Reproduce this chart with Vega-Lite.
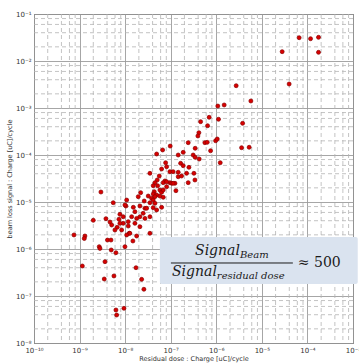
{
  "$schema": "https://vega.github.io/schema/vega-lite/v6.json",
  "width": 319,
  "height": 329,
  "autosize": {"type": "none"},
  "padding": {"left": 34, "top": 14, "right": 6, "bottom": 20},
  "background": "white",
  "config": {
    "view": {"stroke": "#3a3a3a", "strokeWidth": 1},
    "font": "DejaVu Sans"
  },
  "datasets": {
    "minorDose": [
      {"v": 2e-10}, {"v": 4e-10}, {"v": 6e-10}, {"v": 8e-10}, {"v": 2e-9}, {"v": 4e-9}, {"v": 6e-9}, {"v": 8e-9},
      {"v": 2e-8}, {"v": 4e-8}, {"v": 6e-8}, {"v": 8e-8}, {"v": 2e-7}, {"v": 4e-7}, {"v": 6e-7}, {"v": 8e-7},
      {"v": 2e-6}, {"v": 4e-6}, {"v": 6e-6}, {"v": 8e-6}, {"v": 2e-5}, {"v": 4e-5}, {"v": 6e-5}, {"v": 8e-5},
      {"v": 2e-4}, {"v": 4e-4}, {"v": 6e-4}, {"v": 8e-4}
    ],
    "minorSignal": [
      {"v": 2e-8}, {"v": 4e-8}, {"v": 6e-8}, {"v": 8e-8}, {"v": 2e-7}, {"v": 4e-7}, {"v": 6e-7}, {"v": 8e-7},
      {"v": 2e-6}, {"v": 4e-6}, {"v": 6e-6}, {"v": 8e-6}, {"v": 2e-5}, {"v": 4e-5}, {"v": 6e-5}, {"v": 8e-5},
      {"v": 2e-4}, {"v": 4e-4}, {"v": 6e-4}, {"v": 8e-4}, {"v": 2e-3}, {"v": 4e-3}, {"v": 6e-3}, {"v": 8e-3},
      {"v": 2e-2}, {"v": 4e-2}, {"v": 6e-2}, {"v": 8e-2}
    ],
    "shots": [
      {"dose": 6.58e-5, "signal": 3.13e-2}, {"dose": 1.17e-4, "signal": 2.98e-2}, {"dose": 1.75e-4, "signal": 3.19e-2},
      {"dose": 2.79e-5, "signal": 1.58e-2}, {"dose": 1.75e-4, "signal": 1.53e-2}, {"dose": 3.97e-5, "signal": 3.24e-3},
      {"dose": 5.74e-6, "signal": 1.41e-3}, {"dose": 2.73e-6, "signal": 2.98e-3}, {"dose": 1.08e-6, "signal": 1.10e-3},
      {"dose": 1.49e-6, "signal": 1.16e-3}, {"dose": 6.98e-7, "signal": 6.34e-4}, {"dose": 1.12e-6, "signal": 5.75e-4},
      {"dose": 3.78e-6, "signal": 4.72e-4}, {"dose": 3.59e-6, "signal": 1.43e-4}, {"dose": 5.26e-6, "signal": 1.46e-4},
      {"dose": 4.53e-7, "signal": 5.12e-4}, {"dose": 6.44e-7, "signal": 4.20e-4}, {"dose": 4.15e-7, "signal": 2.98e-4},
      {"dose": 3.95e-7, "signal": 2.54e-4}, {"dose": 2.42e-7, "signal": 1.83e-4}, {"dose": 5.62e-7, "signal": 1.83e-4},
      {"dose": 6.32e-7, "signal": 1.86e-4}, {"dose": 9.66e-7, "signal": 2.01e-4}, {"dose": 1.05e-6, "signal": 2.19e-4},
      {"dose": 3.44e-7, "signal": 1.39e-4}, {"dose": 9.75e-8, "signal": 1.55e-4}, {"dose": 6.64e-8, "signal": 1.28e-4},
      {"dose": 4.91e-8, "signal": 1.05e-4}, {"dose": 7.50e-7, "signal": 1.23e-4}, {"dose": 1.88e-7, "signal": 1.14e-4},
      {"dose": 3.11e-7, "signal": 1.00e-4}, {"dose": 3.44e-7, "signal": 8.93e-5}, {"dose": 1.46e-7, "signal": 1.00e-4},
      {"dose": 4.22e-7, "signal": 8.22e-5}, {"dose": 1.22e-6, "signal": 6.85e-5}, {"dose": 7.73e-8, "signal": 6.85e-5},
      {"dose": 1.65e-7, "signal": 6.65e-5}, {"dose": 1.88e-7, "signal": 5.92e-5}, {"dose": 2.51e-7, "signal": 5.47e-5},
      {"dose": 8.13e-8, "signal": 5.64e-5}, {"dose": 6.31e-8, "signal": 5.04e-5}, {"dose": 9.59e-8, "signal": 4.42e-5},
      {"dose": 1.13e-7, "signal": 4.42e-5}, {"dose": 1.46e-7, "signal": 4.29e-5}, {"dose": 2.23e-7, "signal": 4.08e-5},
      {"dose": 3.23e-7, "signal": 4.08e-5}, {"dose": 3.50e-8, "signal": 4.08e-5}, {"dose": 5.60e-8, "signal": 3.57e-5},
      {"dose": 1.46e-7, "signal": 3.45e-5}, {"dose": 1.73e-7, "signal": 3.57e-5}, {"dose": 5.06e-8, "signal": 2.94e-5},
      {"dose": 7.46e-8, "signal": 2.80e-5}, {"dose": 4.51e-8, "signal": 2.58e-5}, {"dose": 6.85e-8, "signal": 2.58e-5},
      {"dose": 9.59e-8, "signal": 2.58e-5}, {"dose": 1.24e-7, "signal": 2.50e-5}, {"dose": 2.42e-7, "signal": 2.58e-5},
      {"dose": 3.40e-7, "signal": 2.94e-5}, {"dose": 4.13e-8, "signal": 2.22e-5}, {"dose": 5.16e-8, "signal": 2.22e-5},
      {"dose": 8.13e-8, "signal": 2.12e-5}, {"dose": 1.05e-7, "signal": 2.50e-5}, {"dose": 5.79e-8, "signal": 1.80e-5},
      {"dose": 4.35e-8, "signal": 1.66e-5}, {"dose": 1.30e-7, "signal": 1.74e-5}, {"dose": 4.13e-8, "signal": 1.48e-5},
      {"dose": 4.91e-8, "signal": 1.41e-5}, {"dose": 5.79e-8, "signal": 1.34e-5}, {"dose": 2.19e-8, "signal": 1.58e-5},
      {"dose": 3.21e-8, "signal": 1.34e-5}, {"dose": 3.81e-8, "signal": 1.20e-5}, {"dose": 4.13e-8, "signal": 1.10e-5},
      {"dose": 6.85e-8, "signal": 1.26e-5}, {"dose": 1.94e-8, "signal": 1.30e-5}, {"dose": 2.62e-8, "signal": 1.05e-5},
      {"dose": 3.50e-8, "signal": 9.66e-6}, {"dose": 4.51e-8, "signal": 9.38e-6}, {"dose": 1.08e-8, "signal": 1.10e-5},
      {"dose": 1.04e-8, "signal": 8.22e-6}, {"dose": 1.51e-8, "signal": 7.71e-6}, {"dose": 2.11e-8, "signal": 8.22e-6},
      {"dose": 2.72e-8, "signal": 7.35e-6}, {"dose": 4.13e-8, "signal": 7.57e-6}, {"dose": 4.91e-8, "signal": 6.76e-6},
      {"dose": 2.49e-8, "signal": 5.75e-6}, {"dose": 2.11e-8, "signal": 4.86e-6}, {"dose": 1.64e-8, "signal": 6.22e-6},
      {"dose": 1.39e-8, "signal": 4.86e-6}, {"dose": 9.08e-9, "signal": 4.86e-6}, {"dose": 1.79e-8, "signal": 4.48e-6},
      {"dose": 2.72e-8, "signal": 4.48e-6}, {"dose": 3.50e-8, "signal": 4.86e-6}, {"dose": 9.08e-9, "signal": 3.52e-6},
      {"dose": 1.17e-8, "signal": 3.08e-6}, {"dose": 1.64e-8, "signal": 3.52e-6}, {"dose": 2.11e-8, "signal": 2.98e-6},
      {"dose": 7.69e-9, "signal": 5.47e-6}, {"dose": 1.23e-8, "signal": 2.16e-6}, {"dose": 1.79e-8, "signal": 1.89e-6},
      {"dose": 3.50e-8, "signal": 2.16e-6}, {"dose": 1.08e-8, "signal": 1.99e-6}, {"dose": 6.31e-8, "signal": 1.61e-5},
      {"dose": 2.94e-9, "signal": 1.63e-5}, {"dose": 5.48e-9, "signal": 9.66e-6}, {"dose": 2.00e-9, "signal": 4.08e-6},
      {"dose": 3.79e-9, "signal": 4.42e-6}, {"dose": 4.65e-9, "signal": 3.75e-6}, {"dose": 5.06e-9, "signal": 3.24e-6},
      {"dose": 6.71e-9, "signal": 2.90e-6}, {"dose": 7.31e-9, "signal": 4.29e-6}, {"dose": 5.97e-9, "signal": 2.54e-6},
      {"dose": 7.54e-10, "signal": 1.99e-6}, {"dose": 1.31e-9, "signal": 1.89e-6}, {"dose": 1.27e-9, "signal": 1.67e-6},
      {"dose": 2.70e-9, "signal": 1.12e-6}, {"dose": 2.80e-9, "signal": 1.03e-6}, {"dose": 4.09e-9, "signal": 1.55e-6},
      {"dose": 4.89e-9, "signal": 1.55e-6}, {"dose": 4.95e-9, "signal": 9.53e-7}, {"dose": 6.28e-9, "signal": 8.34e-7},
      {"dose": 1.15e-9, "signal": 4.35e-7}, {"dose": 3.61e-9, "signal": 5.37e-7}, {"dose": 3.48e-9, "signal": 2.30e-7},
      {"dose": 5.68e-9, "signal": 2.67e-7}, {"dose": 6.28e-9, "signal": 5.04e-8}, {"dose": 6.51e-9, "signal": 3.94e-8},
      {"dose": 9.90e-9, "signal": 1.12e-6}, {"dose": 1.73e-8, "signal": 4.00e-7}, {"dose": 2.30e-8, "signal": 2.26e-7},
      {"dose": 2.58e-8, "signal": 1.39e-7}, {"dose": 9.42e-9, "signal": 5.47e-8}, {"dose": 8.38e-9, "signal": 2.54e-6},
      {"dose": 1.27e-8, "signal": 2.16e-6}, {"dose": 8.13e-8, "signal": 2.70e-5}, {"dose": 1.13e-7, "signal": 2.50e-5},
      {"dose": 2.96e-8, "signal": 7.35e-6}, {"dose": 6.31e-8, "signal": 7.71e-6}, {"dose": 9.90e-9, "signal": 8.63e-6},
      {"dose": 6.85e-8, "signal": 1.80e-5}, {"dose": 4.51e-8, "signal": 1.30e-5}, {"dose": 1.17e-8, "signal": 3.81e-6},
      {"dose": 7.69e-9, "signal": 3.52e-6}, {"dose": 1.48e-8, "signal": 1.48e-6}
    ]
  },
  "layer": [
    {
      "data": {"name": "minorDose"},
      "mark": {"type": "rule", "stroke": "#b4b4b4", "strokeWidth": 0.8, "strokeDash": [4, 3]},
      "encoding": {
        "x": {"field": "v", "type": "quantitative", "scale": {"type": "log", "domain": [1e-10, 1e-3], "nice": false}}
      }
    },
    {
      "data": {"name": "minorSignal"},
      "mark": {"type": "rule", "stroke": "#b4b4b4", "strokeWidth": 0.8, "strokeDash": [4, 3]},
      "encoding": {
        "y": {"field": "v", "type": "quantitative", "scale": {"type": "log", "domain": [1e-8, 1e-1], "nice": false}}
      }
    },
    {
      "data": {"name": "shots"},
      "mark": {"type": "point", "filled": true, "size": 16, "fill": "#d80000", "stroke": "#8a0000", "strokeWidth": 0.7, "opacity": 1},
      "encoding": {
        "x": {
          "field": "dose", "type": "quantitative",
          "scale": {"type": "log", "domain": [1e-10, 1e-3], "nice": false},
          "axis": {
            "values": [1e-10, 1e-9, 1e-8, 1e-7, 1e-6, 1e-5, 1e-4, 1e-3],
            "labelExpr": "'10' + replace(replace(replace(replace(replace(replace(replace(replace(replace(replace(replace('' + round(log(datum.value) / LN10), '-', '⁻'), '0', '⁰'), '1', '¹'), '2', '²'), '3', '³'), '4', '⁴'), '5', '⁵'), '6', '⁶'), '7', '⁷'), '8', '⁸'), '9', '⁹')",
            "labelFontSize": 7, "labelColor": "#333333", "labelPadding": 3, "labelFlush": false, "labelOverlap": false,
            "ticks": false, "domain": false,
            "grid": true, "gridColor": "#9c9c9c", "gridWidth": 0.9,
            "title": "Residual dose : Charge [uC]/cycle",
            "titleFontSize": 6.5, "titleFontWeight": "normal", "titleColor": "#333333", "titlePadding": 2
          }
        },
        "y": {
          "field": "signal", "type": "quantitative",
          "scale": {"type": "log", "domain": [1e-8, 1e-1], "nice": false},
          "axis": {
            "values": [1e-8, 1e-7, 1e-6, 1e-5, 1e-4, 1e-3, 1e-2, 1e-1],
            "labelExpr": "'10' + replace(replace(replace(replace(replace(replace(replace(replace(replace(replace(replace('' + round(log(datum.value) / LN10), '-', '⁻'), '0', '⁰'), '1', '¹'), '2', '²'), '3', '³'), '4', '⁴'), '5', '⁵'), '6', '⁶'), '7', '⁷'), '8', '⁸'), '9', '⁹')",
            "labelFontSize": 7, "labelColor": "#333333", "labelPadding": 3, "labelFlush": false, "labelOverlap": false,
            "ticks": false, "domain": false,
            "grid": true, "gridColor": "#9c9c9c", "gridWidth": 0.9,
            "title": "beam loss signal : Charge [uC]/cycle",
            "titleFontSize": 6.5, "titleFontWeight": "normal", "titleColor": "#333333", "titlePadding": 3
          }
        }
      }
    },
    {
      "data": {"values": [{}]},
      "mark": {"type": "rect", "fill": "#dae3ef", "cornerRadius": 2},
      "encoding": {
        "x": {"datum": 5.79e-8, "type": "quantitative", "scale": {"type": "log", "domain": [1e-10, 1e-3], "nice": false}},
        "x2": {"datum": 1.27e-3},
        "y": {"datum": 1.80e-6, "type": "quantitative", "scale": {"type": "log", "domain": [1e-8, 1e-1], "nice": false}},
        "y2": {"datum": 1.80e-7}
      }
    },
    {
      "data": {"values": [{}]},
      "mark": {"type": "rule", "stroke": "#1a1a1a", "strokeWidth": 1},
      "encoding": {
        "x": {"datum": 1.01e-7, "type": "quantitative", "scale": {"type": "log", "domain": [1e-10, 1e-3], "nice": false}},
        "x2": {"datum": 4.79e-5},
        "y": {"datum": 5.04e-7, "type": "quantitative", "scale": {"type": "log", "domain": [1e-8, 1e-1], "nice": false}}
      }
    },
    {
      "data": {"values": [{}]},
      "mark": {"type": "text", "text": "Signal", "font": "DejaVu Serif", "fontStyle": "italic", "fontSize": 14, "align": "right", "baseline": "alphabetic", "color": "#1a1a1a"},
      "encoding": {
        "x": {"datum": 3.30e-6, "type": "quantitative", "scale": {"type": "log", "domain": [1e-10, 1e-3], "nice": false}},
        "y": {"datum": 7.45e-7, "type": "quantitative", "scale": {"type": "log", "domain": [1e-8, 1e-1], "nice": false}}
      }
    },
    {
      "data": {"values": [{}]},
      "mark": {"type": "text", "text": "Beam", "font": "DejaVu Serif", "fontStyle": "italic", "fontSize": 10, "align": "left", "baseline": "alphabetic", "color": "#1a1a1a"},
      "encoding": {
        "x": {"datum": 3.30e-6, "type": "quantitative", "scale": {"type": "log", "domain": [1e-10, 1e-3], "nice": false}},
        "y": {"datum": 6.44e-7, "type": "quantitative", "scale": {"type": "log", "domain": [1e-8, 1e-1], "nice": false}}
      }
    },
    {
      "data": {"values": [{}]},
      "mark": {"type": "text", "text": "Signal", "font": "DejaVu Serif", "fontStyle": "italic", "fontSize": 14, "align": "right", "baseline": "alphabetic", "color": "#1a1a1a"},
      "encoding": {
        "x": {"datum": 1.03e-6, "type": "quantitative", "scale": {"type": "log", "domain": [1e-10, 1e-3], "nice": false}},
        "y": {"datum": 2.67e-7, "type": "quantitative", "scale": {"type": "log", "domain": [1e-8, 1e-1], "nice": false}}
      }
    },
    {
      "data": {"values": [{}]},
      "mark": {"type": "text", "text": "residual dose", "font": "DejaVu Serif", "fontStyle": "italic", "fontSize": 10, "align": "left", "baseline": "alphabetic", "color": "#1a1a1a"},
      "encoding": {
        "x": {"datum": 1.03e-6, "type": "quantitative", "scale": {"type": "log", "domain": [1e-10, 1e-3], "nice": false}},
        "y": {"datum": 2.30e-7, "type": "quantitative", "scale": {"type": "log", "domain": [1e-8, 1e-1], "nice": false}}
      }
    },
    {
      "data": {"values": [{}]},
      "mark": {"type": "text", "text": "≈ 500", "font": "DejaVu Serif", "fontSize": 14, "align": "left", "baseline": "alphabetic", "color": "#1a1a1a"},
      "encoding": {
        "x": {"datum": 6.15e-5, "type": "quantitative", "scale": {"type": "log", "domain": [1e-10, 1e-3], "nice": false}},
        "y": {"datum": 4.14e-7, "type": "quantitative", "scale": {"type": "log", "domain": [1e-8, 1e-1], "nice": false}}
      }
    }
  ]
}
